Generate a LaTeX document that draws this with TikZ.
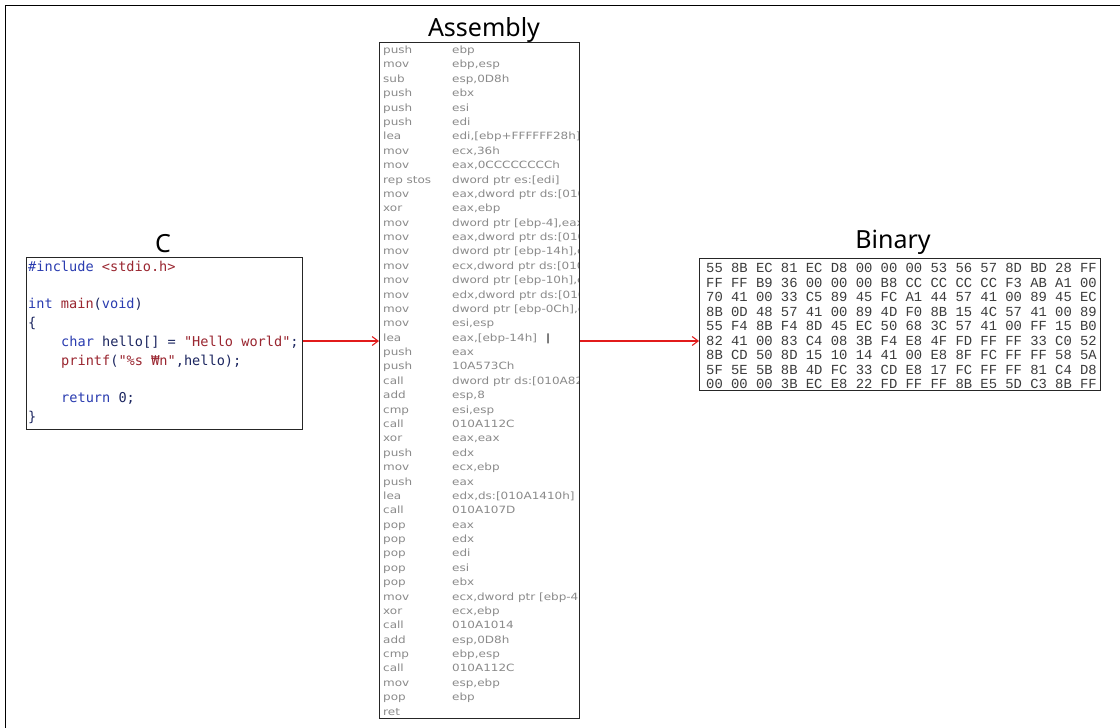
\documentclass[tikz,border=0pt]{standalone}
\usepackage{fontspec}
\setmainfont{Noto Sans}
\newfontfamily\codefont{DejaVu Sans Mono}
\newfontfamily\asmfont[FakeStretch=1.2]{DejaVu Sans}
\newfontfamily\hexfont{Liberation Mono}
\usetikzlibrary{arrows.meta}

\definecolor{kwblue}{HTML}{2A3CB0}
\definecolor{strred}{HTML}{9A2630}
\definecolor{plainnavy}{HTML}{1C2660}
\definecolor{asmgray}{HTML}{8A8A8A}
\definecolor{hexgray}{HTML}{3C3C3C}
\definecolor{flowred}{HTML}{E21B1B}

\tikzset{
  panel/.style={draw=black!85, line width=0.9pt, fill=white, inner sep=0pt, anchor=north west},
  paneltitle/.style={font=\fontsize{25}{30}\selectfont, text=black, inner sep=0pt, anchor=base},
  codetext/.style={font=\codefont\fontsize{13.6}{16}\selectfont, text=plainnavy, inner sep=0pt, anchor=base west},
  asmtext/.style={font=\asmfont\fontsize{10}{12}\selectfont, text=asmgray, inner sep=0pt, anchor=base west},
  hextext/.style={font=\hexfont\fontsize{13.85}{16}\selectfont, text=hexgray, inner sep=0pt, anchor=base west},
  flow/.style={draw=flowred, line width=1.1pt, -{Straight Barb[length=6pt,width=9pt,line width=1.1pt]}}
}

% one line of the assembly listing: row number, mnemonic, operands
\newcommand\asmrow[3]{%
  \node[asmtext] (asm#1) at (383,{53.6+(#1-1)*14.38}) {\makebox[69pt][l]{#2}#3};}
% one row of the hex dump: row number, bytes
\newcommand\hexrow[2]{%
  \node[hextext] (hex#1) at (706,{272.8+(#1-1)*14.5}) {#2};}

\begin{document}
\begin{tikzpicture}[x=1pt,y=-1pt]
\useasboundingbox (0,0) rectangle (1120,728);

% frame lines along the top and left edges
\draw[line width=1.3pt] (5.5,728) -- (5.5,5.5) -- (1120,5.5);

% ---- C source ----
\node[panel, minimum width=276pt, minimum height=172pt] (cbox) at (26,257) {};
\node[paneltitle] (ctitle) at (163,252) {C};
\node[codetext] (c1) at (28,271.5) {\textcolor{kwblue}{\#include} \textcolor{strred}{<stdio.h>}};
\node[codetext] (c3) at (28,308.9) {\textcolor{kwblue}{int} \textcolor{strred}{main}(\textcolor{kwblue}{void})};
\node[codetext] (c4) at (28,327.6) {\{};
\node[codetext] (c5) at (61,346.3) {\textcolor{kwblue}{char} hello[] = \textcolor{strred}{"Hello world"};};
\node[codetext] (c6) at (61,365.0) {\textcolor{strred}{printf}(\textcolor{strred}{"\%s ₩n"},hello);};
\node[codetext] (c8) at (61,402.4) {\textcolor{kwblue}{return} 0;};
\node[codetext] (c9) at (28,421.1) {\}};

% ---- Assembly listing ----
\node[panel, minimum width=200pt, minimum height=676pt] (asmbox) at (379,42) {};
\node[paneltitle] (asmtitle) at (484,36) {Assembly};
\begin{scope}
\clip (379.5,42.5) rectangle (578.5,717.5);
\asmrow{1}{push}{ebp}
\asmrow{2}{mov}{ebp,esp}
\asmrow{3}{sub}{esp,0D8h}
\asmrow{4}{push}{ebx}
\asmrow{5}{push}{esi}
\asmrow{6}{push}{edi}
\asmrow{7}{lea}{edi,[ebp+FFFFFF28h]}
\asmrow{8}{mov}{ecx,36h}
\asmrow{9}{mov}{eax,0CCCCCCCCh}
\asmrow{10}{rep stos}{dword ptr es:[edi]}
\asmrow{11}{mov}{eax,dword ptr ds:[010A7000h]}
\asmrow{12}{xor}{eax,ebp}
\asmrow{13}{mov}{dword ptr [ebp-4],eax}
\asmrow{14}{mov}{eax,dword ptr ds:[010A5744h]}
\asmrow{15}{mov}{dword ptr [ebp-14h],eax}
\asmrow{16}{mov}{ecx,dword ptr ds:[010A5748h]}
\asmrow{17}{mov}{dword ptr [ebp-10h],ecx}
\asmrow{18}{mov}{edx,dword ptr ds:[010A574Ch]}
\asmrow{19}{mov}{dword ptr [ebp-0Ch],edx}
\asmrow{20}{mov}{esi,esp}
\asmrow{21}{lea}{eax,[ebp-14h]\hspace{9pt}\textcolor{black}{|}}
\asmrow{22}{push}{eax}
\asmrow{23}{push}{10A573Ch}
\asmrow{24}{call}{dword ptr ds:[010A82B0h]}
\asmrow{25}{add}{esp,8}
\asmrow{26}{cmp}{esi,esp}
\asmrow{27}{call}{010A112C}
\asmrow{28}{xor}{eax,eax}
\asmrow{29}{push}{edx}
\asmrow{30}{mov}{ecx,ebp}
\asmrow{31}{push}{eax}
\asmrow{32}{lea}{edx,ds:[010A1410h]}
\asmrow{33}{call}{010A107D}
\asmrow{34}{pop}{eax}
\asmrow{35}{pop}{edx}
\asmrow{36}{pop}{edi}
\asmrow{37}{pop}{esi}
\asmrow{38}{pop}{ebx}
\asmrow{39}{mov}{ecx,dword ptr [ebp-4]}
\asmrow{40}{xor}{ecx,ebp}
\asmrow{41}{call}{010A1014}
\asmrow{42}{add}{esp,0D8h}
\asmrow{43}{cmp}{ebp,esp}
\asmrow{44}{call}{010A112C}
\asmrow{45}{mov}{esp,ebp}
\asmrow{46}{pop}{ebp}
\asmrow{47}{ret}{}
\end{scope}

% ---- Binary dump ----
\node[panel, minimum width=401pt, minimum height=132pt] (binbox) at (699,258) {};
\node[paneltitle] (bintitle) at (893,248) {Binary};
\hexrow{1}{55 8B EC 81 EC D8 00 00 00 53 56 57 8D BD 28 FF}
\hexrow{2}{FF FF B9 36 00 00 00 B8 CC CC CC CC F3 AB A1 00}
\hexrow{3}{70 41 00 33 C5 89 45 FC A1 44 57 41 00 89 45 EC}
\hexrow{4}{8B 0D 48 57 41 00 89 4D F0 8B 15 4C 57 41 00 89}
\hexrow{5}{55 F4 8B F4 8D 45 EC 50 68 3C 57 41 00 FF 15 B0}
\hexrow{6}{82 41 00 83 C4 08 3B F4 E8 4F FD FF FF 33 C0 52}
\hexrow{7}{8B CD 50 8D 15 10 14 41 00 E8 8F FC FF FF 58 5A}
\hexrow{8}{5F 5E 5B 8B 4D FC 33 CD E8 17 FC FF FF 81 C4 D8}
\hexrow{9}{00 00 00 3B EC E8 22 FD FF FF 8B E5 5D C3 8B FF}

% ---- translation arrows ----
\draw[flow] (cbox.east |- 0,341) -- (asmbox.west |- 0,341);
\draw[flow] (asmbox.east |- 0,341) -- (binbox.west |- 0,341);
\end{tikzpicture}
\end{document}
